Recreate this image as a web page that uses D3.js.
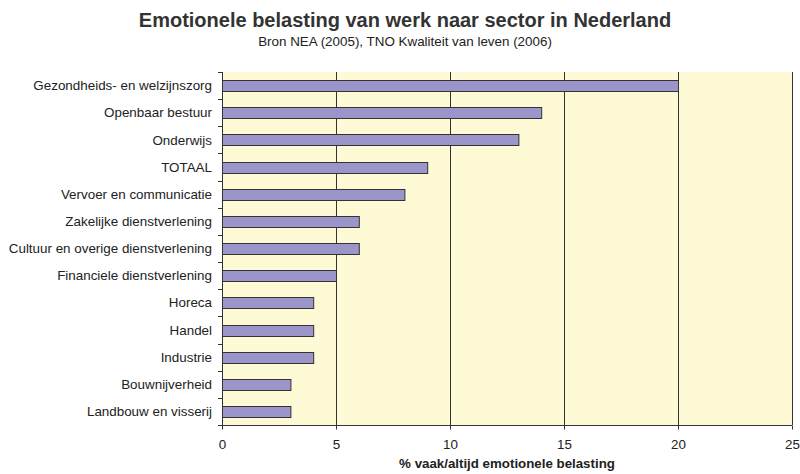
<!DOCTYPE html>
<html>
<head>
<meta charset="utf-8">
<script src="https://cdn.jsdelivr.net/npm/d3@7"></script>
<style>
  html, body { margin: 0; padding: 0; background: #fff; }
  svg { display: block; font-family: "Liberation Sans", Arial, sans-serif; }
</style>
</head>
<body>
<svg id="chart" width="800" height="474"></svg>
<script>
// Sectors, top to bottom
const sectors = [
  "Gezondheids- en welzijnszorg",
  "Openbaar bestuur",
  "Onderwijs",
  "TOTAAL",
  "Vervoer en communicatie",
  "Zakelijke dienstverlening",
  "Cultuur en overige dienstverlening",
  "Financiele dienstverlening",
  "Horeca",
  "Handel",
  "Industrie",
  "Bouwnijverheid",
  "Landbouw en visserij"
];
// % vaak/altijd emotionele belasting
const values = [20, 14, 13, 9, 8, 6, 6, 5, 4, 4, 4, 3, 3];
const xTicks = [0, 5, 10, 15, 20, 25];

const svg = d3.select("#chart");
const margin = { left: 222, right: 8, top: 72, bottom: 49 };
const W = 800, H = 474;
const x0 = margin.left, x1 = W - margin.right;
const y0 = margin.top, y1 = H - margin.bottom;

const x = d3.scaleLinear().domain([0, 25]).range([x0, x1]);
const y = d3.scaleBand().domain(sectors).range([y0, y1]).paddingInner(0.6).paddingOuter(0.3);

// Titles
svg.append("text")
  .attr("x", 405).attr("y", 27)
  .attr("text-anchor", "middle")
  .attr("font-size", 20).attr("font-weight", "bold")
  .attr("fill", "#333")
  .text("Emotionele belasting van werk naar sector in Nederland");
svg.append("text")
  .attr("x", 405).attr("y", 46)
  .attr("text-anchor", "middle")
  .attr("font-size", 13.4)
  .attr("fill", "#222")
  .text("Bron NEA (2005), TNO Kwaliteit van leven (2006)");

// Plot background
svg.append("rect")
  .attr("x", x0).attr("y", y0)
  .attr("width", x1 - x0).attr("height", y1 - y0)
  .attr("fill", "#fffad6");

// Vertical gridlines
svg.append("g")
  .selectAll("line")
  .data(xTicks.filter(d => d > 0))
  .join("line")
  .attr("x1", d => Math.round(x(d)) + 0.5)
  .attr("x2", d => Math.round(x(d)) + 0.5)
  .attr("y1", y0).attr("y2", y1)
  .attr("stroke", "#333").attr("stroke-width", 1);

// Bars
svg.append("g")
  .selectAll("rect")
  .data(sectors)
  .join("rect")
  .attr("x", x(0) + 0.5)
  .attr("y", (d) => Math.round(y(d)) + 0.5)
  .attr("width", (d, i) => x(values[i]) - x(0))
  .attr("height", Math.round(y.bandwidth()))
  .attr("fill", "#9b95c9")
  .attr("stroke", "#333")
  .attr("stroke-width", 1);

// Y axis: line with tick marks at category boundaries
const yAxis = svg.append("g").attr("stroke", "#333").attr("stroke-width", 1);
yAxis.append("line")
  .attr("x1", x0 + 0.5).attr("x2", x0 + 0.5)
  .attr("y1", y0).attr("y2", y1 + 4);
const step = (y1 - y0) / sectors.length;
yAxis.selectAll("line.tick")
  .data(d3.range(sectors.length + 1))
  .join("line")
  .attr("class", "tick")
  .attr("x1", x0 - 4).attr("x2", x0 + 0.5)
  .attr("y1", i => Math.round(y0 + i * step) + 0.5)
  .attr("y2", i => Math.round(y0 + i * step) + 0.5);

// Category labels
svg.append("g")
  .selectAll("text")
  .data(sectors)
  .join("text")
  .attr("x", 212)
  .attr("y", d => y(d) + y.bandwidth() / 2)
  .attr("dy", "0.35em")
  .attr("text-anchor", "end")
  .attr("font-size", 13.4)
  .attr("fill", "#222")
  .text(d => d);

// X axis
const xAxis = d3.axisBottom(x).tickValues(xTicks).tickSize(4).tickPadding(10);
const gx = svg.append("g")
  .attr("transform", `translate(0,${y1 + 0.5})`)
  .call(xAxis);
gx.select(".domain").attr("stroke", "#333").attr("d", `M${x0},0H${x1}`);
gx.selectAll(".tick line").attr("stroke", "#333");
gx.selectAll(".tick text")
  .attr("font-size", 13.4)
  .attr("font-family", "Liberation Sans, Arial, sans-serif")
  .attr("fill", "#222");

svg.append("text")
  .attr("x", (x0 + x1) / 2).attr("y", 468)
  .attr("text-anchor", "middle")
  .attr("font-size", 13.3).attr("font-weight", "bold")
  .attr("fill", "#222")
  .text("% vaak/altijd emotionele belasting");
</script>
</body>
</html>
